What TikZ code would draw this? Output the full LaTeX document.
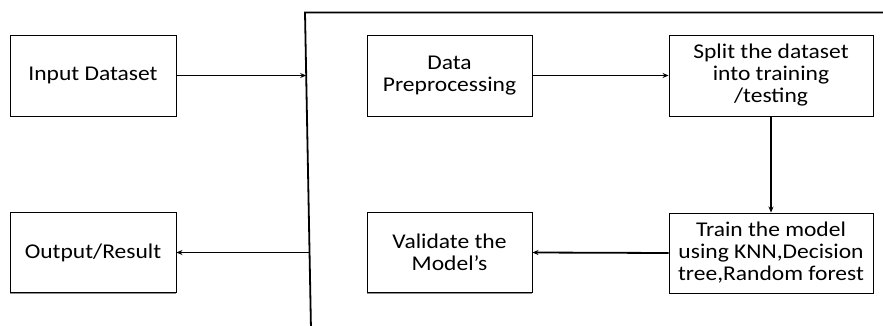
\documentclass[tikz,border=0pt]{standalone}
\usepackage{fontspec}
\setmainfont[FakeStretch=1.12]{Carlito}
\usetikzlibrary{arrows.meta,calc,shadows}
\begin{document}
\begin{tikzpicture}[x=1pt,y=1pt,
  boxnode/.style={draw=black, line width=0.9pt, fill=white, align=center,
    inner sep=2pt, font=\fontsize{21}{22}\selectfont,
    drop shadow={shadow xshift=0pt, shadow yshift=-1.3pt, fill=black!55, opacity=0.8}},
  conn/.style={line width=1.8pt, -{Stealth[length=6pt,width=5pt]}},
  frameline/.style={line width=1.8pt}]
\useasboundingbox (0,0) rectangle (883,-326);
\node[boxnode, minimum width=166pt, minimum height=81pt] (in) at (93,-75.5) {Input Dataset};
\node[boxnode, minimum width=165pt, minimum height=81pt] (dp) at (449.5,-75.5) {Data\\Preprocessing};
\node[boxnode, minimum width=204pt, minimum height=81pt] (sp) at (771,-75.5) {Split the dataset\\into training\\/testing};
\node[boxnode, minimum width=204pt, minimum height=80pt] (tr) at (771,-253) {Train the model\\using KNN,Decision\\tree,Random forest};
\node[boxnode, minimum width=165pt, minimum height=80pt] (va) at (449.5,-252.5) {Validate the\\Model’s};
\node[boxnode, minimum width=166pt, minimum height=80pt] (out) at (93,-252.5) {Output/Result};
\coordinate (vt) at (305,-12.5);
\coordinate (vb) at (311,-330);
\coordinate (tright) at (885,-12.5);
\draw[frameline] (tright) -- (vt) -- (vb);
\coordinate (pin) at ($(vt)!0.198!(vb)$);
\coordinate (pout) at ($(vt)!0.755!(vb)$);
\draw[conn] (in.east) -- (in.east -| pin);
\draw[frameline] (out.east -| pout) -- (pout);
\draw[conn] (pout |- out.east) -- (out.east);
\draw[conn] (dp.east) -- (sp.west);
\draw[conn] (sp.south) -- (tr.north);
\draw[conn] (tr.west) -- (va.east);
\end{tikzpicture}
\end{document}
